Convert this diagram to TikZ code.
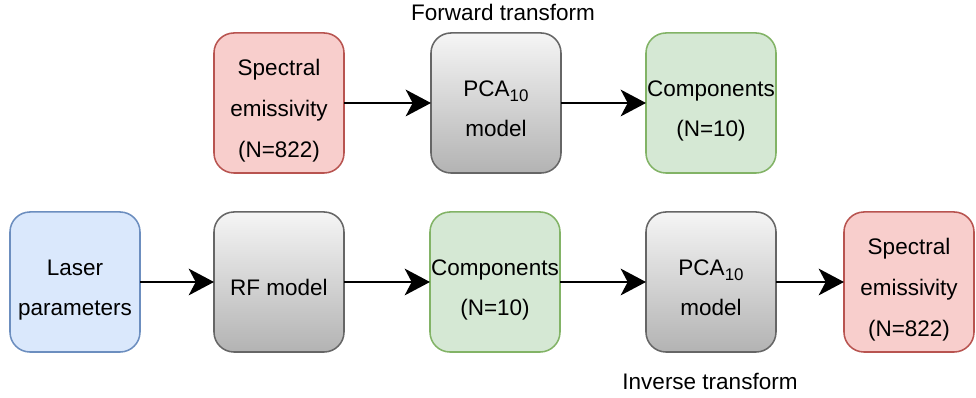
\documentclass[tikz,border=0pt]{standalone}
\usepackage{fontspec}
\setmainfont{Liberation Sans}
\usetikzlibrary{arrows.meta}
\definecolor{redfill}{HTML}{F8CECC}
\definecolor{redline}{HTML}{B85450}
\definecolor{bluefill}{HTML}{DAE8FC}
\definecolor{blueline}{HTML}{6C8EBF}
\definecolor{greenfill}{HTML}{D5E8D4}
\definecolor{greenline}{HTML}{82B366}
\definecolor{graytop}{HTML}{F5F5F5}
\definecolor{graybot}{HTML}{B3B3B3}
\definecolor{grayline}{HTML}{666666}
\tikzset{every node/.style={font=\fontsize{16}{29}\selectfont, align=center, outer sep=0pt},
  box/.style={rounded corners=0.5cm, line width=1.1pt, minimum width=3.25cm, minimum height=3.5cm, inner sep=0pt},
  databox/.style={box, draw=redline, fill=redfill},
  inbox/.style={box, draw=blueline, fill=bluefill},
  compbox/.style={box, draw=greenline, fill=greenfill},
  modelbox/.style={box, draw=grayline, top color=graytop, bottom color=graybot},
  flow/.style={line width=1.5pt, -{Stealth[length=18pt, width=19pt, inset=5pt]}}}
\newcommand{\pcaten}{PCA\raisebox{-0.45ex}{\fontsize{12}{12}\selectfont 10}}
% box text, set a little lower than the box centre
\newcommand{\boxlines}[1]{\raisebox{-3.8pt}[\height][\depth]{\begin{tabular}{@{}c@{}}#1\end{tabular}}}

\begin{document}
\begin{tikzpicture}[x=0.025cm, y=-0.025cm]
  \useasboundingbox (0,0) rectangle (976,398);
  % forward transform
  \node (fwd) at (503,12) {Forward transform};
  \node[databox] (specf) at (279,103) {\boxlines{Spectral\\emissivity\\(N=822)}};
  \node[modelbox] (pcaf) at (496,103) {\boxlines{\pcaten\\model}};
  \node[compbox] (compf) at (711,103) {\boxlines{Components\\(N=10)}};
  \draw[flow] (specf) -- (pcaf);
  \draw[flow] (pcaf) -- (compf);
  % inverse transform
  \node[inbox] (laser) at (75,282) {\boxlines{Laser\\parameters}};
  \node[modelbox] (rf) at (279,282) {\boxlines{RF model}};
  \node[compbox] (compi) at (495,282) {\boxlines{Components\\(N=10)}};
  \node[modelbox] (pcai) at (711,282) {\boxlines{\pcaten\\model}};
  \node[databox] (speci) at (909,282) {\boxlines{Spectral\\emissivity\\(N=822)}};
  \node (inv) at (710,381) {Inverse transform};
  \draw[flow] (laser) -- (rf);
  \draw[flow] (rf) -- (compi);
  \draw[flow] (compi) -- (pcai);
  \draw[flow] (pcai) -- (speci);
\end{tikzpicture}
\end{document}
